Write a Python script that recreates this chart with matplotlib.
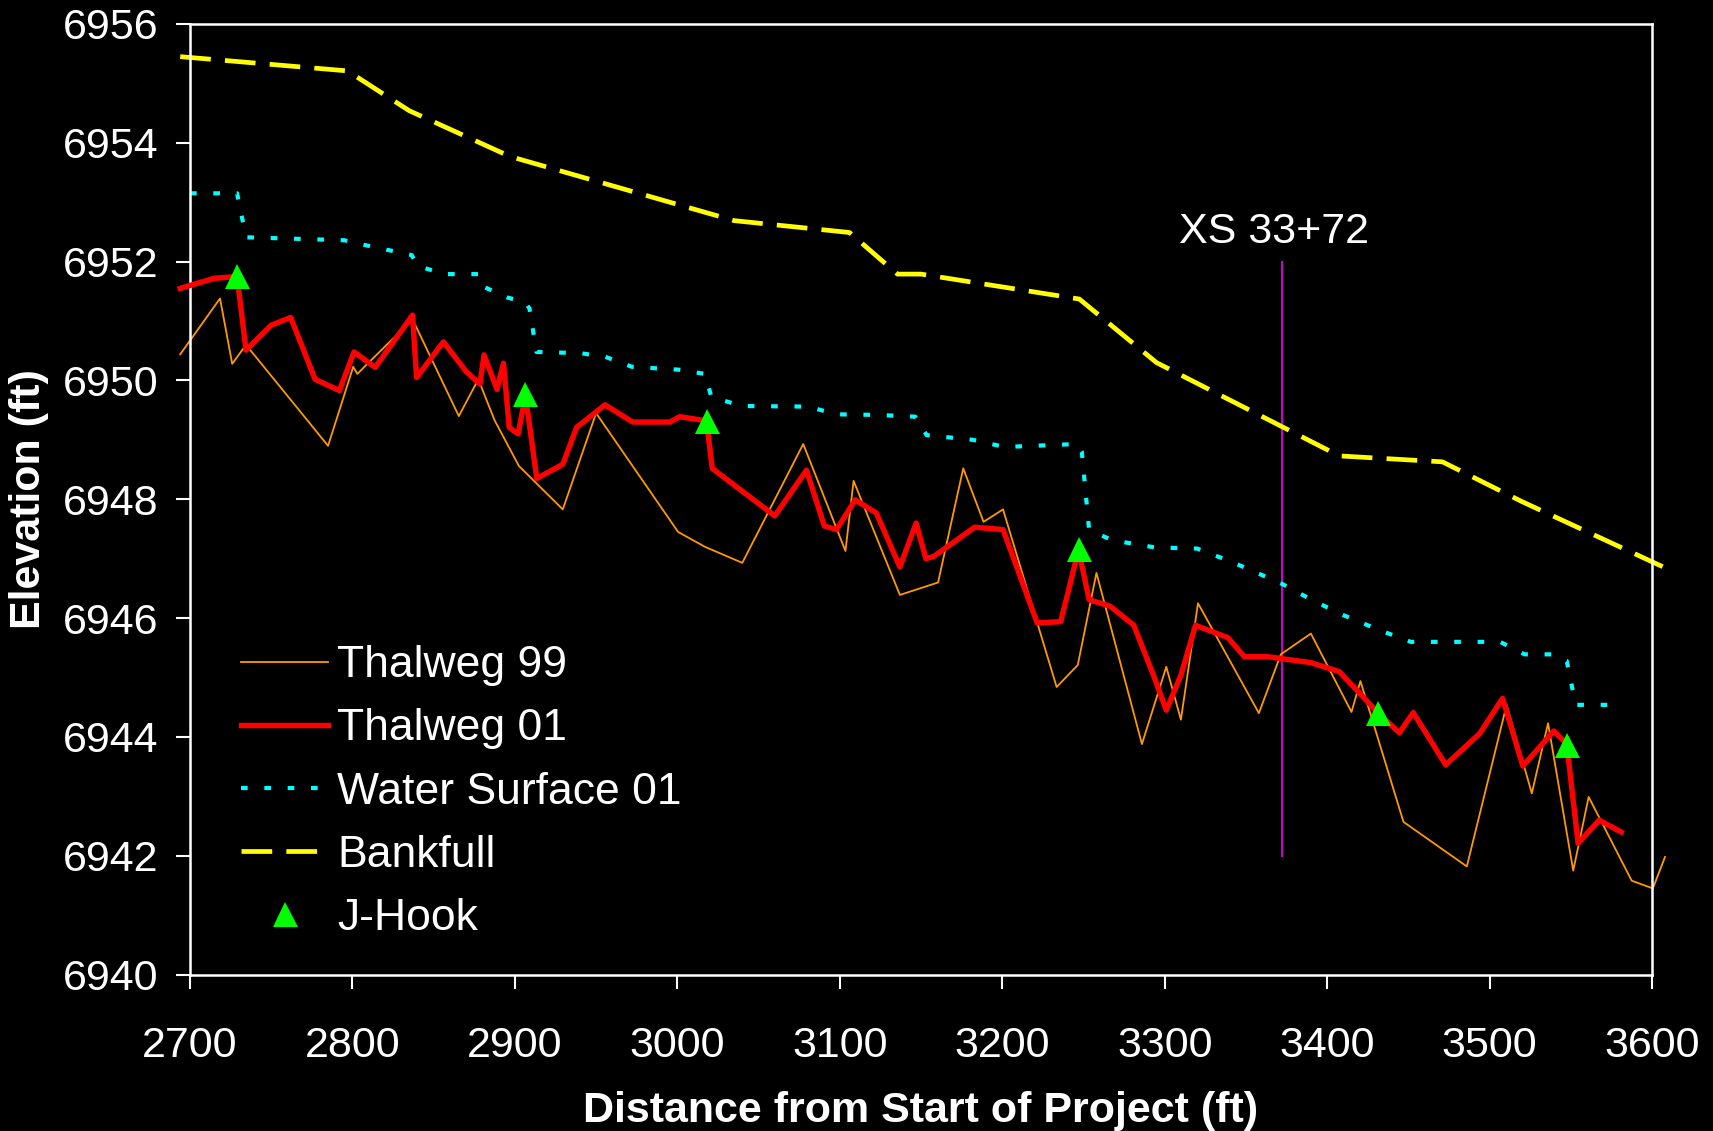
"""Longitudinal profile: thalweg 99/01, water surface, bankfull and J-hooks."""

import matplotlib
matplotlib.use("Agg")
import matplotlib.pyplot as plt

# ---- data (ft) ----------------------------------------------------------
thalweg99_x = [2694, 2718.5, 2726, 2734.5, 2785, 2800.5, 2803, 2837, 2865.5,
               2877.5, 2887.5, 2902.5, 2929.5, 2950, 3000.5, 3017, 3040,
               3077.5, 3103.5, 3108.5, 3137, 3160.5, 3176, 3188.5, 3200.5,
               3233.5, 3246.5, 3258, 3286, 3301, 3310, 3320.5, 3358, 3371.5,
               3390, 3415, 3420.5, 3447, 3486, 3510.5, 3526, 3536, 3551.5,
               3561, 3587.5, 3600.5, 3608]
thalweg99_y = [6950.44, 6951.38, 6950.28, 6950.60, 6948.90, 6950.23, 6950.11,
               6951.03, 6949.40, 6950.02, 6949.33, 6948.56, 6947.83, 6949.45,
               6947.45, 6947.20, 6946.93, 6948.93, 6947.13, 6948.31, 6946.39,
               6946.60, 6948.52, 6947.62, 6947.83, 6944.84, 6945.21, 6946.76,
               6943.88, 6945.18, 6944.29, 6946.25, 6944.40, 6945.39, 6945.74,
               6944.42, 6944.94, 6942.57, 6941.82, 6944.54, 6943.05, 6944.23,
               6941.75, 6942.99, 6941.58, 6941.45, 6941.98]

thalweg01_x = [2694, 2715, 2729, 2734.5, 2750, 2762, 2777, 2792, 2801, 2814,
               2837, 2839.5, 2856, 2870, 2878.5, 2881, 2889, 2893, 2896.5,
               2902, 2906.5, 2913.5, 2929.5, 2938, 2955.5, 2972.5, 2995.5,
               3001.5, 3018, 3021.5, 3060, 3079.5, 3090.5, 3098, 3109.5,
               3122.5, 3137, 3147, 3153, 3158, 3183, 3200.5, 3221.5, 3236,
               3247, 3253.5, 3266.5, 3281, 3293.5, 3301, 3310, 3319, 3339,
               3349, 3363.5, 3371.5, 3390, 3407.5, 3431.5, 3444.5, 3453, 3473,
               3494, 3508, 3520.5, 3539.5, 3547.5, 3554.5, 3567.5, 3581]
thalweg01_y = [6951.55, 6951.72, 6951.75, 6950.51, 6950.93, 6951.06, 6950.02,
               6949.83, 6950.48, 6950.22, 6951.10, 6950.05, 6950.65, 6950.15,
               6949.94, 6950.43, 6949.85, 6950.29, 6949.21, 6949.10, 6949.75,
               6948.35, 6948.59, 6949.21, 6949.59, 6949.30, 6949.30, 6949.39,
               6949.32, 6948.52, 6947.72, 6948.49, 6947.55, 6947.49, 6947.99,
               6947.77, 6946.86, 6947.60, 6947.00, 6947.04, 6947.53, 6947.49,
               6945.92, 6945.94, 6947.15, 6946.31, 6946.20, 6945.88, 6945.01,
               6944.45, 6945.04, 6945.88, 6945.67, 6945.35, 6945.35, 6945.32,
               6945.25, 6945.10, 6944.40, 6944.07, 6944.41, 6943.53, 6944.06,
               6944.65, 6943.51, 6944.10, 6943.88, 6942.21, 6942.60, 6942.40]

water_x = [2700, 2729, 2734.5, 2795, 2802.5, 2836.5, 2840, 2856.5, 2878,
           2880.5, 2895, 2906.5, 2909, 2913.3, 2940, 2955.5, 2972, 3001.5,
           3017, 3021, 3040, 3080.5, 3098, 3123.5, 3146.5, 3153.5, 3182,
           3201.5, 3245.5, 3249, 3253.5, 3268, 3294, 3320, 3341, 3372, 3391,
           3410, 3432, 3451.5, 3506.5, 3521.5, 3538, 3547.5, 3553, 3582]
water_y = [6953.15, 6953.15, 6952.41, 6952.36, 6952.31, 6952.11, 6951.93,
           6951.79, 6951.79, 6951.58, 6951.40, 6951.31, 6951.21, 6950.48,
           6950.46, 6950.40, 6950.23, 6950.18, 6950.11, 6949.72, 6949.57,
           6949.56, 6949.43, 6949.42, 6949.39, 6949.08, 6949.00, 6948.88,
           6948.93, 6948.80, 6947.48, 6947.31, 6947.19, 6947.17, 6946.95,
           6946.58, 6946.30, 6946.05, 6945.80, 6945.60, 6945.60, 6945.39,
           6945.39, 6945.28, 6944.54, 6944.54]

bankfull_x = [2694, 2797, 2835, 2897, 3035, 3106, 3135.5, 3150, 3247.5, 3295,
              3407.5, 3471, 3520, 3607]
bankfull_y = [6955.45, 6955.21, 6954.54, 6953.77, 6952.69, 6952.49, 6951.79,
              6951.79, 6951.37, 6950.30, 6948.73, 6948.63, 6947.96, 6946.86]

jhook_x = [2729, 2906.5, 3018, 3247, 3431.5, 3547.5]
jhook_y = [6951.75, 6949.78, 6949.32, 6947.17, 6944.41, 6943.86]

xs_station = 3372
xs_bottom, xs_top = 6942, 6952
xs_label = "XS 33+72"

x_ticks = list(range(2700, 3601, 100))
y_ticks = list(range(6940, 6957, 2))

# ---- style --------------------------------------------------------------
plt.rcParams["font.family"] = ["Liberation Sans", "DejaVu Sans"]
FG = "white"
FS = 31

fig = plt.figure(figsize=(17.13, 11.31), dpi=100, facecolor="black")
ax = fig.add_axes([0.1109, 0.1383, 0.8535, 0.8405], facecolor="black")

ax.plot(thalweg99_x, thalweg99_y, color="#FF9900", lw=1.3,
        label="Thalweg 99", clip_on=False, zorder=2)
ax.plot(thalweg01_x, thalweg01_y, color="#FF0000", lw=3.9,
        label="Thalweg 01", clip_on=False, zorder=3)
ax.plot(water_x, water_y, color="#00FFFF", lw=3.0, linestyle=(0, (1.6, 4.0)),
        label="Water Surface 01", zorder=2)
ax.plot(bankfull_x, bankfull_y, color="#FFFF00", lw=3.4,
        linestyle=(0, (6.5, 3.0)), label="Bankfull", clip_on=False, zorder=2)
ax.plot(jhook_x, jhook_y, linestyle="none", marker="^", ms=18,
        color="#00FF00", mew=0, label="J-Hook", zorder=4)

ax.plot([xs_station, xs_station], [xs_bottom, xs_top], color="#CC00CC",
        lw=1.5, zorder=1)
ax.text(xs_station - 5, xs_top + 0.5, xs_label, color=FG, fontsize=FS,
        ha="center", va="center")

ax.set_xlim(2700, 3600)
ax.set_ylim(6940, 6956)
ax.set_xticks(x_ticks)
ax.set_yticks(y_ticks)
ax.tick_params(axis="x", colors=FG, labelsize=FS, length=10, width=1.5,
               direction="out", pad=27)
ax.tick_params(axis="y", colors=FG, labelsize=FS, length=10, width=1.5,
               direction="out", pad=13)
for spine in ax.spines.values():
    spine.set_color(FG)
    spine.set_linewidth(1.8)

ax.set_xlabel("Distance from Start of Project (ft)", color=FG, fontsize=FS,
              fontweight="bold", labelpad=18)
ax.set_ylabel("Elevation (ft)", color=FG, fontsize=FS, fontweight="bold",
              labelpad=10)

leg = ax.legend(loc="lower left", bbox_to_anchor=(0.02, 0.014), frameon=False,
                fontsize=FS + 1, handlelength=1.95, handletextpad=0.2,
                labelspacing=0.5, borderpad=0, numpoints=1)
for t in leg.get_texts():
    t.set_color(FG)

fig.savefig("out.png", dpi=100, facecolor="black")
